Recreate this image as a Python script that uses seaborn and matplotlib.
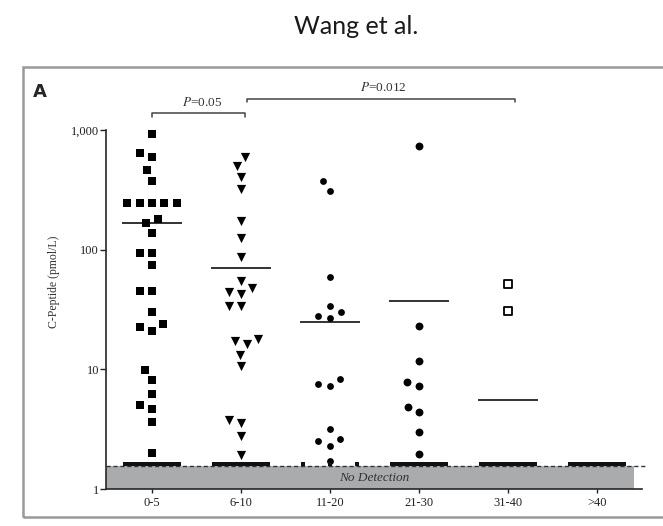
"""
C-peptide by diabetes duration (Wang et al., panel A)
Log-scale dot plot with medians, non-detect band and P-value brackets
"""

import numpy as np
import pandas as pd
import matplotlib
matplotlib.use("Agg")
import matplotlib.pyplot as plt
from matplotlib.patches import Rectangle
import seaborn as sns

# Data (pmol/L)
groups = ["0-5", "6-10", "11-20", "21-30", "31-40", ">40"]
cp_0_5 = [926, 646, 596, 464, 376, 246, 246, 246, 246, 246, 181, 168, 138,
          94, 94, 74, 44.7, 44.7, 30, 23.7, 22.4, 21, 9.8, 8.1, 6.2, 5.0,
          4.7, 3.6, 2.0]
cp_6_10 = [596, 501, 405, 322, 175, 126, 87, 55, 48, 44, 43, 33.5, 33.5,
           17.8, 17.1, 16.2, 13.3, 10.6, 3.8, 3.55, 2.8, 1.92]
cp_11_20 = [376, 310, 59.6, 33.5, 30, 28, 26.6, 8.3, 7.5, 7.2, 3.2, 2.6,
            2.5, 2.3, 1.7]
cp_21_30 = [736, 22.8, 11.7, 7.8, 7.2, 4.8, 4.4, 3.0, 1.96]
cp_31_40 = [52, 31]
cp_over_40 = []
medians = [168, 70, 25, 37, 5.5]
nd_counts = [18, 18, 3, 15, 18, 16]   # below detection, per group
nd_value = 1.62
detect_limit = 1.57
p_labels = ["=0.05", "=0.012"]

sns.set_style("ticks")
plt.rcParams["font.family"] = ["Liberation Serif", "DejaVu Serif"]
plt.rcParams["mathtext.fontset"] = "stix"

fig = plt.figure(figsize=(6.63, 5.26), dpi=100)
ax = fig.add_axes([0.1599, 0.0703, 0.8084, 0.787])
ax.set_yscale("log")

# marker, drawn area (pt^2), face, edge
series = [
    (cp_0_5, "s", 34, "black", "black"),
    (cp_6_10, "v", 44, "black", "black"),
    (cp_11_20, "o", 24, "black", "black"),
    (cp_21_30, "o", 32, "black", "black"),
    (cp_31_40, "s", 30, "white", "black"),
]

# swarm laid out with a wider spacing than the drawn markers
swarm_colls = []
for i, (vals, marker, area, fc, ec) in enumerate(series):
    df = pd.DataFrame({"group": groups[i], "cp": vals})
    n_before = len(ax.collections)
    sns.swarmplot(data=df, x="group", y="cp", order=groups, ax=ax,
                  marker=marker, size=8.5, color=fc, edgecolor=ec,
                  linewidth=1.3 if fc == "white" else 0, zorder=3)
    for coll in ax.collections[n_before:]:
        swarm_colls.append((coll, area))

# non-detected samples sit on top of the grey band
nd_x, nd_y = [], []
for i, n in enumerate(nd_counts):
    nd_x.extend(i + np.linspace(-0.3, 0.3, n))
    nd_y.extend([nd_value] * n)
sns.scatterplot(x=nd_x, y=nd_y, ax=ax, marker="s", s=10, color="#111111",
                linewidth=0, zorder=3, legend=False)

# median lines
for i, m in enumerate(medians):
    ax.hlines(m, i - 0.34, i + 0.34, color="#222222", lw=1.3, zorder=2)

# no-detection band
ax.fill_between([-0.517, 5.42], 1, detect_limit, color="#a9abad", zorder=1,
                lw=0)
ax.plot([-0.517, 5.56], [detect_limit, detect_limit], ls=(0, (3, 2)),
        color="#333333", lw=1, clip_on=False, zorder=2)
ax.text(2.5, 1.24, "No Detection", fontsize=9.5, style="italic",
        ha="center", va="center", color="#333333", zorder=4)

# P-value brackets
def bracket(x0, x1, y, drop, label, lx, ly):
    ax.plot([x0, x0, x1, x1], [drop, y, y, drop], color="#444444", lw=1.1,
            clip_on=False)
    ax.text(lx, ly, r"$P$" + label, fontsize=9.5, ha="center",
            va="center", color="#333333")

bracket(0.0, 1.04, 1384, 1282, p_labels[0], 0.56, 1700)
bracket(1.07, 4.08, 1812, 1710, p_labels[1], 2.6, 2270)

ax.set_xlim(-0.517, 5.506)
ax.set_ylim(1, 2875)
ax.set_yticks([1, 10, 100, 1000])
ax.set_yticklabels(["1", "10", "100", "1,000"])
ax.yaxis.set_minor_locator(matplotlib.ticker.NullLocator())
ax.set_xticks(range(len(groups)))
ax.set_xticklabels(groups)
ax.tick_params(axis="both", labelsize=9, colors="#222222", width=1,
               direction="out")
ax.tick_params(axis="y", length=4, pad=1)
ax.tick_params(axis="x", length=3, pad=3)
ax.set_xlabel("")
ax.set_ylabel("C-Peptide (pmol/L)", fontsize=8.5, color="#333333",
              labelpad=8)

sns.despine(ax=ax)
ax.spines["left"].set_bounds(1, 1000)
ax.spines["left"].set_linewidth(1.2)
ax.spines["bottom"].set_linewidth(1.2)
ax.spines["bottom"].set_bounds(-0.517, 5.506)

# panel frame, label and title
fig.add_artist(Rectangle((23 / 663, 1 - 517 / 526), (670 - 23) / 663,
                         (517 - 67) / 526, transform=fig.transFigure,
                         fill=False, ec="#999999", lw=1.8))
fig.text(40 / 663, 1 - 92 / 526, "A", fontsize=13, fontweight="bold",
         family="DejaVu Sans", ha="center", va="center")
fig.text(356 / 663, 1 - 27 / 526, "Wang et al.", fontsize=18,
         family="Lato", ha="center", va="center", color="#1a1a1a")

# fix the swarm layout, then shrink markers to their drawn size
fig.canvas.draw()
for coll, area in swarm_colls:
    if "draw" in coll.__dict__:
        del coll.draw
    coll.set_sizes([area])

fig.savefig("out.png", dpi=100, facecolor="white")
